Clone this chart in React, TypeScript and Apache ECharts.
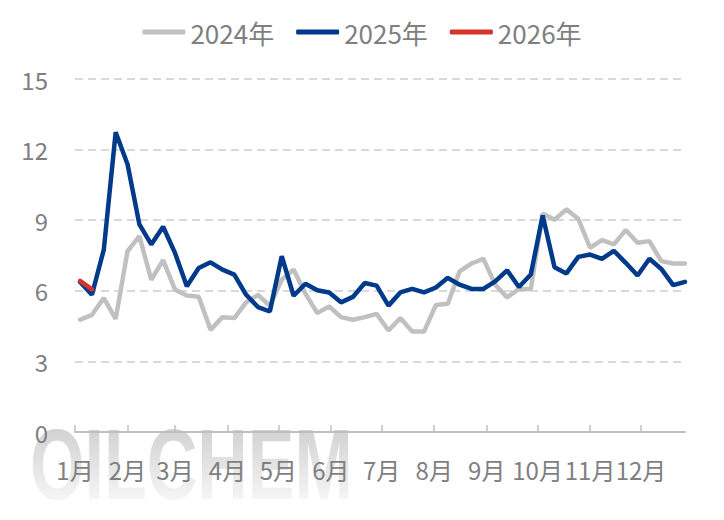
import * as echarts from 'echarts';
import React, { useEffect, useRef } from 'react';

// weekly sample dates, plotted on one common calendar year
const weekDates = [
  '01-04', '01-11', '01-18', '01-25',
  '02-01', '02-08', '02-15', '02-22',
  '03-01', '03-08', '03-15', '03-22', '03-29',
  '04-05', '04-12', '04-19', '04-26',
  '05-03', '05-10', '05-17', '05-24', '05-31',
  '06-07', '06-14', '06-21', '06-28',
  '07-05', '07-12', '07-19', '07-26',
  '08-02', '08-09', '08-16', '08-23', '08-30',
  '09-06', '09-13', '09-20', '09-27',
  '10-04', '10-11', '10-18', '10-25',
  '11-01', '11-08', '11-15', '11-22', '11-29',
  '12-06', '12-13', '12-20', '12-27',
];

const values2024 = [
  4.77, 4.98, 5.69, 4.81, 7.68, 8.32, 6.47, 7.3, 6.05, 5.8, 5.75, 4.34, 4.88,
  4.84, 5.51, 5.83, 5.36, 6.47, 6.9, 5.88, 5.05, 5.34, 4.88, 4.77, 4.88, 5.02,
  4.31, 4.84, 4.27, 4.27, 5.4, 5.45, 6.83, 7.16, 7.36, 6.26, 5.72, 6.08, 6.08,
  9.28, 9.02, 9.46, 9.06, 7.83, 8.15, 7.97, 8.58, 8.04, 8.11, 7.26, 7.16, 7.16,
];

const values2025 = [
  6.38, 5.83, 7.75, 12.74, 11.38, 8.82, 7.97, 8.72, 7.61, 6.19, 6.97, 7.21, 6.9,
  6.69, 5.83, 5.31, 5.12, 7.47, 5.79, 6.3, 6.02, 5.93, 5.51, 5.74, 6.33, 6.22,
  5.37, 5.93, 6.08, 5.93, 6.14, 6.55, 6.26, 6.08, 6.08, 6.4, 6.87, 6.16, 6.69,
  9.2, 7.0, 6.74, 7.44, 7.54, 7.36, 7.7, 7.19, 6.65, 7.36, 6.93, 6.24, 6.38,
];

const values2026 = [6.42, 6.06];

const seriesNames = ['2024年', '2025年', '2026年'];
const seriesColors = ['#c0c0c0', '#013a8b', '#d6332a'];
const yTicks = [0, 3, 6, 9, 12, 15];

const BASE_YEAR = '2025';
const FONT = '"Noto Sans CJK SC", "Noto Sans", sans-serif';
const TEXT_GRAY = '#7f7f7f';

const toPoints = (vals: number[]) =>
  vals.map((v, i) => [`${BASE_YEAR}-${weekDates[i]}`, v]);

const App: React.FC = () => {
  const chartRef = useRef<HTMLDivElement>(null);

  useEffect(() => {
    document.body.style.margin = '0';
    const myChart = echarts.init(chartRef.current!, null, { renderer: 'svg' });

    const DAY = 24 * 3600 * 1000;
    const allValues = [values2024, values2025, values2026];

    const option = {
      animation: false,
      backgroundColor: '#ffffff',
      textStyle: { fontFamily: FONT },
      legend: {
        top: 14,
        left: 'center',
        icon: 'roundRect',
        itemWidth: 43,
        itemHeight: 5,
        itemGap: 22,
        textStyle: { fontSize: 26, color: TEXT_GRAY, fontFamily: FONT },
        data: seriesNames,
      },
      grid: { left: 75, right: 39, top: 79, bottom: 88, containLabel: false },
      graphic: [
        {
          // watermark
          type: 'text',
          z: -10,
          silent: true,
          x: 30,
          y: 464,
          scaleX: 0.7,
          style: {
            text: 'OILCHEM',
            font: 'bold 100px "Liberation Sans", Arial, sans-serif',
            verticalAlign: 'middle',
            fill: '#cbcbcb',
          },
        },
        {
          // fade towards the bottom of the watermark
          type: 'rect',
          z: -9,
          silent: true,
          shape: { x: 20, y: 426, width: 350, height: 80 },
          style: {
            fill: new echarts.graphic.LinearGradient(0, 0, 0, 1, [
              { offset: 0, color: 'rgba(255,255,255,0.1)' },
              { offset: 1, color: 'rgba(255,255,255,0.88)' },
            ]),
          },
        },
      ],
      xAxis: {
        type: 'time',
        min: `${BASE_YEAR}-01-01`,
        max: `${BASE_YEAR}-12-27`,
        splitNumber: 12,
        minInterval: 31 * DAY,
        maxInterval: 31 * DAY,
        axisLine: { lineStyle: { color: '#bfbfbf', width: 2 } },
        axisTick: { inside: true, length: 7, lineStyle: { color: '#bfbfbf', width: 1.5 } },
        axisLabel: {
          fontSize: 24,
          color: TEXT_GRAY,
          margin: 25,
          showMaxLabel: false,
          hideOverlap: false,
          formatter: (val: number) => `${new Date(val).getMonth() + 1}月`,
        },
        splitLine: { show: false },
      },
      yAxis: {
        type: 'value',
        min: yTicks[0],
        max: yTicks[yTicks.length - 1],
        interval: yTicks[1] - yTicks[0],
        axisLine: { show: false },
        axisTick: { show: false },
        axisLabel: { fontSize: 24, color: TEXT_GRAY, margin: 27 },
        splitLine: {
          lineStyle: { color: '#d9d9d9', width: 2, type: [8, 5] },
        },
      },
      series: seriesNames.map((name, k) => ({
        name,
        type: 'line',
        data: toPoints(allValues[k]),
        showSymbol: false,
        symbol: 'none',
        z: 2 + k,
        color: seriesColors[k],
        lineStyle: { width: 4.5, color: seriesColors[k], cap: 'round' },
      })),
    };

    myChart.setOption(option);

    return () => {
      myChart.dispose();
    };
  }, []);

  return <div ref={chartRef} style={{ width: '724px', height: '520px' }} />;
};

export default App;
